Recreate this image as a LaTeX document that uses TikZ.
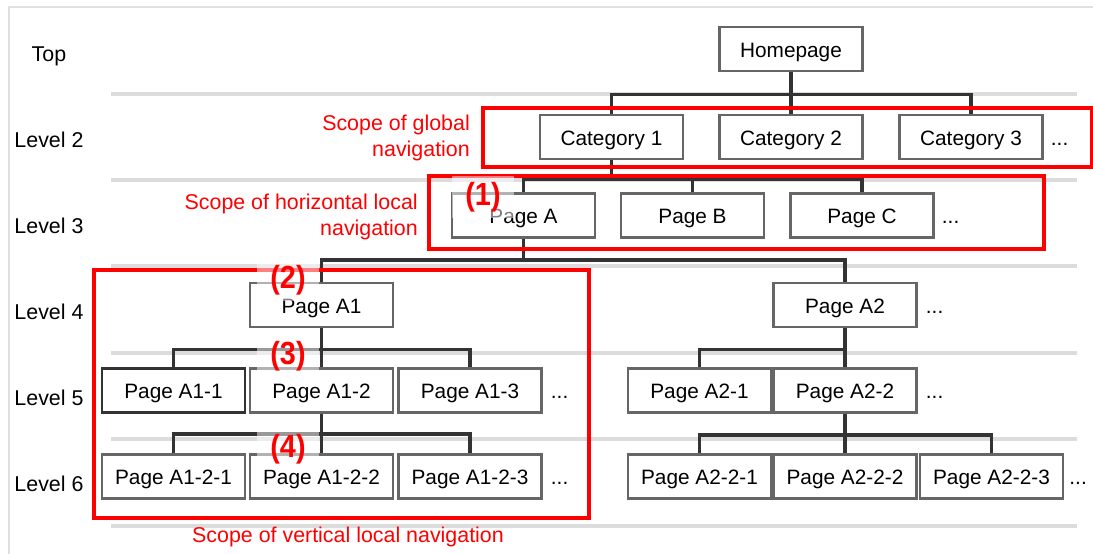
\documentclass[tikz,border=0pt]{standalone}
\usepackage{fontspec}
\setmainfont{Liberation Sans}
\usetikzlibrary{positioning}

\definecolor{boxgray}{HTML}{666666}
\definecolor{linedark}{HTML}{333333}
\definecolor{rowgray}{HTML}{DCDCDC}
\definecolor{framegray}{HTML}{E0E0E0}
\definecolor{scopered}{HTML}{FF0000}

\newcommand{\labelfont}{\fontsize{20.8}{26}\selectfont}
\newcommand{\scopefont}{\fontsize{21.4}{26}\selectfont}

\begin{document}
\begin{tikzpicture}[x=1pt, y=-1pt,
    page/.style={draw=boxgray, line width=2.5pt, fill=white, minimum width=143pt,
      minimum height=44pt, inner sep=0pt, text height=18pt, text depth=2pt, font=\labelfont},
    tree/.style={draw=linedark, line width=3.5pt, line join=miter},
    rowline/.style={draw=rowgray, line width=3.7pt},
    scopebox/.style={draw=scopered, line width=3.5pt},
    scopetext/.style={text=scopered, font=\scopefont, align=right, inner sep=0pt},
    levelnode/.style={font=\scopefont, anchor=base, inner sep=0pt},
    more/.style={font=\labelfont, inner sep=0pt},
    marker/.style={text=scopered, font=\fontsize{32}{34}\bfseries\selectfont,
      fill=white, fill opacity=0.5, text opacity=1, minimum width=62pt,
      inner xsep=0pt, inner ysep=6pt}]

  \useasboundingbox (0,0) rectangle (1093,554);

  % Frame and row lines
  \draw[framegray, line width=2pt] (9,554) -- (9,7) -- (1093,7);
  \foreach \y in {94,180,266,353,439,526}
    \draw[rowline] (111,\y) -- (1077,\y);

  % Levels
  \foreach \lbl/\y [count=\i] in {Top/61, Level 2/147, Level 3/233, Level 4/319, Level 5/405, Level 6/491}
    \node[levelnode] (level\i) at (49,\y) {\lbl};

  % Top
  \node[page] (home) at (791,49) {Homepage};

  % Level 2
  \node[page] (cat1) at (611.5,137) {Category 1};
  \node[page] (cat2) at (791,137) {Category 2};
  \node[page] (cat3) at (971,137) {Category 3};
  \node[more, base right=7pt of cat3] (cat3more) {...};

  % Level 3
  \node[page] (pgA) at (523.5,215.5) {Page A};
  \node[page] (pgB) at (692.5,215.5) {Page B};
  \node[page] (pgC) at (862,215.5) {Page C};
  \node[more, base right=7pt of pgC] (pgCmore) {...};

  % Level 4
  \node[page] (pgA1) at (321.5,305) {Page A1};
  \node[page] (pgA2) at (845,305) {Page A2};
  \node[more, base right=8pt of pgA2] (pgA2more) {...};

  % Level 5
  \node[page, draw=linedark] (pgA11) at (173.5,390.5) {Page A1-1};
  \node[page] (pgA12) at (321.5,390.5) {Page A1-2};
  \node[page] (pgA13) at (470,390.5) {Page A1-3};
  \node[more, base right=8pt of pgA13] (pgA13more) {...};
  \node[page] (pgA21) at (699.5,390.5) {Page A2-1};
  \node[page] (pgA22) at (845,390.5) {Page A2-2};
  \node[more, base right=8pt of pgA22] (pgA22more) {...};

  % Level 6
  \node[page] (pgA121) at (173.5,476.5) {Page A1-2-1};
  \node[page] (pgA122) at (321.5,476.5) {Page A1-2-2};
  \node[page] (pgA123) at (470,476.5) {Page A1-2-3};
  \node[more, base right=8pt of pgA123] (pgA123more) {...};
  \node[page] (pgA221) at (699.5,476.5) {Page A2-2-1};
  \node[page] (pgA222) at (845,476.5) {Page A2-2-2};
  \node[page] (pgA223) at (991.5,476.5) {Page A2-2-3};
  \node[more, base right=5pt of pgA223] (pgA223more) {...};

  % Tree
  \draw[tree] (home.south) -- ++(0,22) -| (cat1.north);
  \draw[tree] (home.south) -- ++(0,22) -| (cat3.north);
  \draw[tree] (home.south) -- (cat2.north);

  \draw[tree] (cat1.south) -- ++(0,19) -| (pgA.north);
  \draw[tree] (cat1.south) -- ++(0,19) -| (pgB.north);
  \draw[tree] (cat1.south) -- ++(0,19) -| (pgC.north);

  \draw[tree] (pgA.south) -- ++(0,21) -| (pgA1.north);
  \draw[tree] (pgA.south) -- ++(0,21) -| (pgA2.north);

  \draw[tree] (pgA1.south) -- ++(0,21) -| (pgA11.north);
  \draw[tree] (pgA1.south) -- ++(0,21) -| (pgA13.north);
  \draw[tree] (pgA1.south) -- (pgA12.north);

  \draw[tree] (pgA2.south) -- ++(0,21) -| (pgA21.north);
  \draw[tree] (pgA2.south) -- (pgA22.north);

  \draw[tree] (pgA12.south) -- ++(0,20) -| (pgA121.north);
  \draw[tree] (pgA12.south) -- ++(0,20) -| (pgA123.north);
  \draw[tree] (pgA12.south) -- (pgA122.north);

  \draw[tree] (pgA22.south) -- ++(0,21) -| (pgA221.north);
  \draw[tree] (pgA22.south) -- ++(0,21) -| (pgA223.north);
  \draw[tree] (pgA22.south) -- (pgA222.north);

  % Scopes
  \draw[scopebox] (483,108) rectangle (1092,167);
  \draw[scopebox] (429,176) rectangle (1044,249);
  \draw[scopebox] (94,270) rectangle (589,518);

  \node[scopetext, anchor=east] (globaltxt) at (470,138) {Scope of global\\navigation};
  \node[scopetext, anchor=east] (horiztxt) at (418,216.5) {Scope of horizontal local\\navigation};
  \node[scopetext] (verttxt) at (348,537) {Scope of vertical local navigation};

  % Markers
  \node[marker] (mark1) at (483,197) {\scalebox{0.9}[1]{(1)}};
  \node[marker] (mark2) at (288,280) {\scalebox{0.9}[1]{(2)}};
  \node[marker] (mark3) at (288,356) {\scalebox{0.9}[1]{(3)}};
  \node[marker] (mark4) at (288,449) {\scalebox{0.9}[1]{(4)}};

\end{tikzpicture}
\end{document}
